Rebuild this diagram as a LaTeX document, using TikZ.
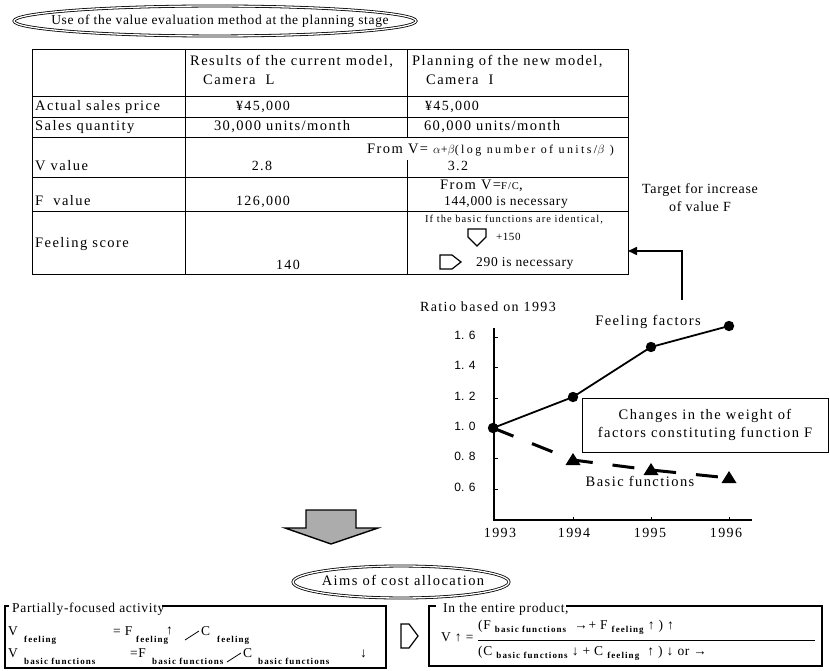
\documentclass[tikz,border=0pt]{standalone}
\usepackage{fontspec}
\setmainfont{Liberation Serif}
\newfontfamily\wsf{Liberation Serif}[LetterSpace=10]
\newfontfamily\xwsf{Liberation Serif}[LetterSpace=20]
\newfontfamily\lsf{Liberation Serif}[LetterSpace=5]
\newfontfamily\subf{Liberation Serif}[LetterSpace=12]
\newfontfamily\sansf{Liberation Sans}
\usetikzlibrary{arrows.meta}
\newcommand{\fs}[1]{\fontsize{#1}{#1}\selectfont}
\newcommand{\sbx}[1]{\raisebox{-0.45ex}{\subf\fs{9}\bfseries #1}}
\tikzset{
  t/.style={inner sep=0pt, anchor=mid west, font=\wsf\fs{14.5}},
  tc/.style={inner sep=0pt, anchor=mid, font=\wsf\fs{14.5}},
  m/.style={inner sep=0pt, anchor=mid west, font=\lsf\fs{13.5}},
  mc/.style={inner sep=0pt, anchor=mid, font=\lsf\fs{13.5}},
  sm/.style={inner sep=0pt, anchor=mid west, font=\lsf\fs{11}},
  smc/.style={inner sep=0pt, anchor=mid, font=\wsf\fs{10.5}},
  bt/.style={inner sep=0pt, anchor=mid west, font=\lsf\fs{13.5}},
  tick/.style={inner sep=0pt, anchor=mid, font=\sansf\fs{12}},
  tbl/.style={line width=1pt},
  dbl/.style={draw, double, double distance=1.3pt, line width=0.8pt},
  hollow/.style={draw, line width=1.2pt, fill=white},
  bx/.style={line width=1.1pt}
}
\begin{document}
\begin{tikzpicture}[x=1pt,y=-1pt]
\useasboundingbox (0,0) rectangle (830,671);

% ---- title ellipse
\draw[dbl] (215,21) ellipse [x radius=201, y radius=15];
\node[mc] (title) at (220,22) {Use of the value evaluation method at the planning stage};

% ---- table
\draw[tbl] (32,50) rectangle (628,274);
\foreach \yy in {97,118,138,178,212} {\draw[tbl] (32,\yy) -- (628,\yy);}
\draw[tbl] (185,50) -- (185,274);
\draw[tbl] (407,50) -- (407,138);
\draw[tbl] (407,160) -- (407,274);

\node[t] (h2a) at (190,63) {Results of the current model,};
\node[t] (h2b) at (203,82) {Camera\ \ L};
\node[t] (h3a) at (412,63) {Planning of the new model,};
\node[t] (h3b) at (426,82) {Camera\ \ I};

\node[t] (r1) at (35,108) {Actual sales price};
\node[tc, font=\wsf\fs{14}] (r1a) at (263,108) {¥45,000};
\node[tc, font=\wsf\fs{14}] (r1b) at (452,108) {¥45,000};

\node[t] (r2) at (35,128) {Sales quantity};
\node[tc] (r2a) at (282,128) {30,000 units/month};
\node[tc] (r2b) at (492,128) {60,000 units/month};

\node[t] (r3) at (35,168) {V value};
\node[t] (r3f) at (367,151) {From V= {\xwsf\fs{12}$\alpha$+$\beta$(log number of units/$\beta$ )}};
\node[tc, font=\wsf\fs{14}] (r3a) at (262,168) {2.8};
\node[tc, font=\wsf\fs{14}] (r3b) at (458,168) {3.2};

\node[t] (r4) at (35,203) {F\ \ value};
\node[t] (r4f) at (440,187) {From V={\fs{10.5}F/C},};
\node[tc, font=\wsf\fs{14}] (r4a) at (263,203) {126,000};
\node[m] (r4b) at (444,203) {144,000 is necessary};

\node[t] (r5) at (35,245) {Feeling score};
\node[smc] (r5f) at (514,220) {If the basic functions are identical,};
\draw[hollow] (468,229) -- (486,229) -- (486,237) -- (477,246) -- (468,237) -- cycle;
\node[sm] (p150) at (496,238) {+150};
\draw[hollow] (440,255) -- (452,255) -- (461,262) -- (452,269) -- (440,269) -- cycle;
\node[m] (r5b) at (476,264) {290 is necessary};
\node[tc, font=\wsf\fs{14}] (r5a) at (288,267) {140};

% ---- target arrow
\node[tc, font=\lsf\fs{14}] (tg1) at (700,191) {Target for increase};
\node[tc, font=\lsf\fs{14}] (tg2) at (700,209) {of value F};
\coordinate (tabR) at (628,251);
\coordinate (arrS) at (682,300);
\draw[line width=1.6pt, -{Triangle[length=9pt,width=8pt]}] (arrS) |- (tabR);

% ---- graph
\node[inner sep=0pt, anchor=mid east, font=\wsf\fs{14}] (ratio) at (556,309) {Ratio based on 1993};
\draw[line width=1.2pt] (494,328) -- (494,520) -- (752,520);
\foreach \yy/\lab in {337/1. 6,367/1. 4,398/1. 2,428/1. 0,458/0. 8,489/0. 6} {
  \draw[line width=1pt] (494,\yy) -- (498,\yy);
  \node[tick] at (465,\yy) {\lab};
}
\foreach \xx in {573,651,729} {\draw[line width=1pt] (\xx,520) -- (\xx,517);}
\node[tc, font=\wsf\fs{14}] (y93) at (500,535) {1993};
\node[tc, font=\wsf\fs{14}] (y94) at (574,535) {1994};
\node[tc, font=\wsf\fs{14}] (y95) at (650,535) {1995};
\node[tc, font=\wsf\fs{14}] (y96) at (726,535) {1996};

\coordinate (f93) at (493,428);
\coordinate (f94) at (573,397);
\coordinate (f95) at (651,347);
\coordinate (f96) at (729,326);
\coordinate (b94) at (573,460);
\coordinate (b95) at (651,470);
\coordinate (b96) at (729,478);
\draw[line width=1.8pt] (f93) -- (f94) -- (f95) -- (f96);
\draw[line width=3pt, dash pattern=on 22pt off 20pt] (f93) -- (b94) -- (b95) -- (b96);
\foreach \p in {f93,f94,f95,f96} {\fill (\p) circle (5.2);}
\foreach \p in {b94,b95,b96} {\fill (\p) ++(0,-7) -- ++(7.5,12) -- ++(-15,0) -- cycle;}

\node[tc] (ff) at (648,323) {Feeling factors};
\node[tc] (bf) at (640,484) {Basic functions};
\node[draw, line width=1pt, fill=white, minimum width=246pt, minimum height=54pt, inner sep=0pt, align=center, font=\wsf\fs{14.5}] (chg) at (705,425) {Changes in the weight of\\[3pt]factors constituting function F};

% ---- big gray arrow
\filldraw[fill=gray!65, draw=black, line width=1.4pt] (306,510) -- (356,510) -- (356,528) -- (378,528) -- (331,544) -- (285,528) -- (306,528) -- cycle;

% ---- aims ellipse
\draw[dbl] (401,582) ellipse [x radius=108, y radius=16];
\node[tc] (aims) at (403,583) {Aims of cost allocation};

% ---- left box
\draw[bx] (9,606) -- (5,606) -- (5,668) -- (386,668) -- (386,606) -- (162,606);
\node[bt] (pfa) at (12,610) {Partially-focused activity};
\node[bt] (v1) at (8,633) {V};
\node[bt] at (24,637) {\sbx{feeling}};
\node[bt] at (113,633) {= F};
\node[bt] at (136,637) {\sbx{feeling}};
\node[bt] at (166,632) {↑};
\draw[line width=0.8pt] (185,640) -- (199,631);
\node[bt] at (201,633) {C};
\node[bt] at (217,637) {\sbx{feeling}};
\node[bt] (v2) at (8,655) {V};
\node[bt] at (24,659) {\sbx{basic functions}};
\node[bt] at (130,655) {=F};
\node[bt] at (152,659) {\sbx{basic functions}};
\draw[line width=0.8pt] (227,662) -- (241,653);
\node[bt] at (243,655) {C};
\node[bt] at (258,659) {\sbx{basic functions}};
\node[bt] at (360,655) {↓};

% ---- middle hollow arrow
\draw[hollow] (401,624) -- (409,624) -- (418,636) -- (409,648) -- (401,648) -- cycle;

% ---- right box
\draw[bx] (436,606) -- (429,606) -- (429,666) -- (822,666) -- (822,606) -- (566,606);
\node[bt] (iep) at (443,610) {In the entire product,};
\node[bt] (vup) at (441,639) {V ↑ =};
\node[bt] (num) at (478,627) {(F \sbx{basic functions} \ →+ F \sbx{feeling} ↑ ) ↑};
\draw[line width=0.8pt] (478,640) -- (815,640);
\node[bt] (den) at (478,653) {(C \sbx{basic functions} ↓ + C \sbx{feeling} \ ↑ ) ↓ or →};
\end{tikzpicture}
\end{document}
